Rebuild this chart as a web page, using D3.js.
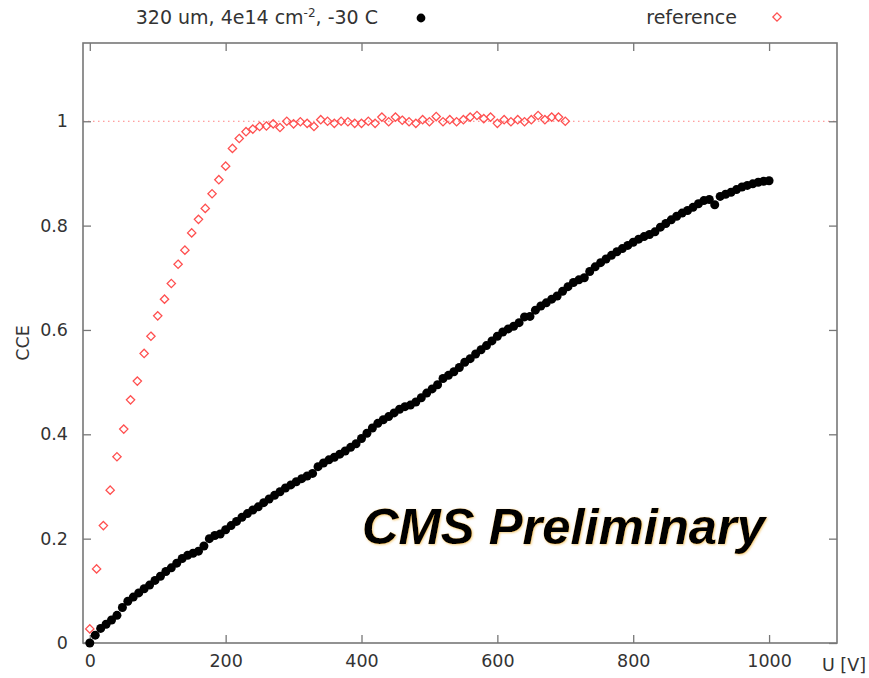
<!DOCTYPE html>
<html>
<head>
<meta charset="utf-8">
<script src="https://cdn.jsdelivr.net/npm/d3@7"></script>
<style>
  html, body { margin: 0; padding: 0; background: #fff; }
  svg { display: block; }
  text { font-family: "DejaVu Sans", sans-serif; fill: #333; }
</style>
</head>
<body>
<svg id="chart" width="869" height="678"></svg>
<script>
// ---- data ----
// reference: open red diamonds, 0..700 V in 10 V steps
const refVoltage = d3.range(0, 701, 10);
const refCCE = [
  0.027, 0.142, 0.225, 0.293, 0.357, 0.410, 0.466, 0.502, 0.555, 0.588,
  0.627, 0.659, 0.689, 0.726, 0.753, 0.786, 0.812, 0.833, 0.861, 0.888,
  0.914, 0.948, 0.967, 0.980, 0.985, 0.990, 0.991, 0.995, 0.988, 1.000,
  0.995, 0.999, 0.996, 0.990, 1.003, 1.000, 0.996, 1.000, 0.999, 0.996,
  0.996, 1.000, 0.996, 1.008, 0.999, 1.008, 1.002, 0.999, 0.996, 1.003,
  0.999, 1.009, 0.999, 1.003, 0.999, 1.003, 1.008, 1.011, 1.005, 1.008,
  0.996, 1.003, 0.999, 1.003, 0.999, 1.003, 1.011, 1.003, 1.008, 1.008,
  1.000
];

// 320 um, 4e14, -30 C: filled black dots, 0..1000 V in 8 V steps
const irrVoltage = d3.range(0, 1001, 8);
const irrCCE = [
  0.000, 0.015, 0.028, 0.036, 0.044, 0.053, 0.068, 0.080, 0.088, 0.096,
  0.104, 0.111, 0.120, 0.128, 0.137, 0.144, 0.153, 0.162, 0.168, 0.172,
  0.176, 0.186, 0.200, 0.206, 0.209, 0.217, 0.225, 0.233, 0.241, 0.248,
  0.255, 0.261, 0.269, 0.276, 0.283, 0.290, 0.297, 0.303, 0.309, 0.315,
  0.320, 0.325, 0.338, 0.345, 0.351, 0.356, 0.362, 0.368, 0.375, 0.382,
  0.392, 0.402, 0.412, 0.421, 0.428, 0.434, 0.441, 0.448, 0.453, 0.456,
  0.462, 0.470, 0.479, 0.487, 0.495, 0.507, 0.513, 0.520, 0.528, 0.538,
  0.545, 0.554, 0.562, 0.570, 0.579, 0.588, 0.596, 0.602, 0.607, 0.614,
  0.625, 0.626, 0.638, 0.646, 0.652, 0.659, 0.665, 0.674, 0.683, 0.691,
  0.696, 0.700, 0.712, 0.721, 0.729, 0.736, 0.743, 0.750, 0.756, 0.762,
  0.768, 0.774, 0.779, 0.783, 0.788, 0.797, 0.804, 0.811, 0.818, 0.824,
  0.829, 0.835, 0.842, 0.848, 0.850, 0.840, 0.856, 0.860, 0.864, 0.869,
  0.874, 0.877, 0.880, 0.883, 0.885, 0.886
];

const xTicks = [0, 200, 400, 600, 800, 1000];
const yTicks = [0, 0.2, 0.4, 0.6, 0.8, 1];

const irrLabel = "320 um, 4e14 cm";
const refLabel = "reference";

// ---- layout ----
const plotL = 83, plotR = 837, plotT = 43, plotB = 643;
const svg = d3.select("#chart");

const x = d3.scaleLinear().domain([-10, 1100]).range([plotL, plotR]);
const y = d3.scaleLinear().domain([0, 1.15]).range([plotB, plotT]);

// faint orange edge for the watermark
const defs = svg.append("defs");
defs.append("filter").attr("id", "glow")
  .attr("x", "-5%").attr("y", "-20%").attr("width", "110%").attr("height", "140%")
  .append("feDropShadow")
  .attr("dx", 0.8).attr("dy", 0.8).attr("stdDeviation", 0.8)
  .attr("flood-color", "#e69a00").attr("flood-opacity", 0.55);

// reference line at CCE = 1
svg.append("line")
  .attr("x1", plotL).attr("x2", plotR)
  .attr("y1", y(1)).attr("y2", y(1))
  .attr("stroke", "#ff8080").attr("stroke-width", 1)
  .attr("stroke-dasharray", "1.5,3.5");

// ---- axes: ticks inside, mirrored on top/right ----
const tickLen = 8;
const frameColor = "#777";

function styleAxis(g) {
  g.select(".domain").remove();
  g.selectAll(".tick line").attr("stroke", frameColor).attr("stroke-width", 1.3);
  g.selectAll(".tick text").attr("fill", "#333").style("font-size", "17.5px")
    .style("font-family", "'DejaVu Sans', sans-serif");
}

svg.append("g").attr("transform", `translate(0,${plotB})`)
  .call(d3.axisBottom(x).tickValues(xTicks).tickFormat(d3.format("d"))
    .tickSizeInner(-tickLen).tickSizeOuter(0).tickPadding(12))
  .call(styleAxis);

svg.append("g").attr("transform", `translate(0,${plotT})`)
  .call(d3.axisTop(x).tickValues(xTicks).tickFormat("")
    .tickSizeInner(-tickLen).tickSizeOuter(0))
  .call(styleAxis);

svg.append("g").attr("transform", `translate(${plotL},0)`)
  .call(d3.axisLeft(y).tickValues(yTicks).tickFormat(d => d === 0 || d === 1 ? d3.format("d")(d) : d3.format(".1f")(d))
    .tickSizeInner(-tickLen).tickSizeOuter(0).tickPadding(15))
  .call(styleAxis);

svg.append("g").attr("transform", `translate(${plotR},0)`)
  .call(d3.axisRight(y).tickValues(yTicks).tickFormat("")
    .tickSizeInner(-tickLen).tickSizeOuter(0))
  .call(styleAxis);

// frame
svg.append("rect")
  .attr("x", plotL).attr("y", plotT)
  .attr("width", plotR - plotL).attr("height", plotB - plotT)
  .attr("fill", "none").attr("stroke", frameColor).attr("stroke-width", 1.6);

// axis titles
svg.append("text")
  .attr("transform", `translate(29,343) rotate(-90)`)
  .attr("text-anchor", "middle")
  .style("font-size", "17.5px")
  .text("CCE");

svg.append("text")
  .attr("x", 866).attr("y", 671)
  .attr("text-anchor", "end")
  .style("font-size", "17.5px")
  .text("U [V]");

// ---- series ----
const diamond = d3.symbol().type(d3.symbolDiamond2).size(44);

svg.append("g")
  .selectAll("circle")
  .data(irrVoltage.map((v, i) => [v, irrCCE[i]]))
  .join("circle")
  .attr("cx", d => x(d[0]))
  .attr("cy", d => y(d[1]))
  .attr("r", 4.5)
  .attr("fill", "#000");

svg.append("g")
  .selectAll("path")
  .data(refVoltage.map((v, i) => [v, refCCE[i]]))
  .join("path")
  .attr("transform", d => `translate(${x(d[0])},${y(d[1])})`)
  .attr("d", diamond)
  .attr("fill", "none")
  .attr("stroke", "#ff5050")
  .attr("stroke-width", 1.3);

// ---- legend ----
const lg = svg.append("text")
  .attr("x", 378).attr("y", 24)
  .attr("text-anchor", "end")
  .style("font-size", "19px");
lg.append("tspan").text(irrLabel);
lg.append("tspan").attr("dy", -7).style("font-size", "12px").text("-2");
lg.append("tspan").attr("dy", 7).text(", -30 C");

svg.append("circle").attr("cx", 421).attr("cy", 18).attr("r", 4.4).attr("fill", "#000");

svg.append("text")
  .attr("x", 737).attr("y", 24)
  .attr("text-anchor", "end")
  .style("font-size", "19px")
  .text(refLabel);

svg.append("path")
  .attr("transform", "translate(777,17)")
  .attr("d", diamond)
  .attr("fill", "none").attr("stroke", "#ff5050").attr("stroke-width", 1.3);

// ---- watermark ----
svg.append("text")
  .attr("x", 362).attr("y", 544)
  .attr("filter", "url(#glow)")
  .attr("textLength", 403).attr("lengthAdjust", "spacingAndGlyphs")
  .style("font-family", "'Liberation Sans', Arial, sans-serif")
  .style("font-weight", "bold").style("font-style", "italic").style("font-size", "50px")
  .style("fill", "#000")
  .text("CMS Preliminary");
</script>
</body>
</html>
